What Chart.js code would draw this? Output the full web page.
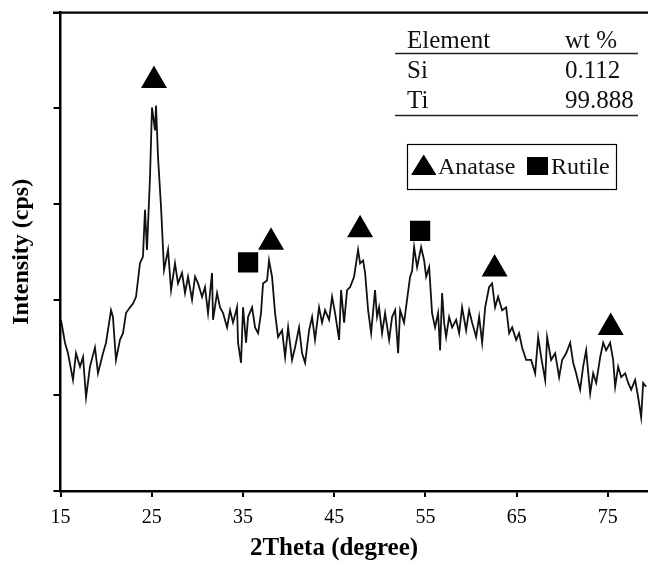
<!DOCTYPE html>
<html>
<head>
<meta charset="utf-8">
<script src="https://cdn.jsdelivr.net/npm/chart.js@4.4.1/dist/chart.umd.min.js"></script>
<style>
    html, body { margin: 0; padding: 0; background: #fff; }
    #wrap { width: 648px; height: 563px; }
</style>
</head>
<body>
<div id="wrap"><canvas id="xrd-graph"></canvas></div>
<script>
// 2theta (degree) / intensity
const twoTheta = [
    15.05, 15.49, 15.82, 16.37, 16.70, 17.14, 17.47, 17.80, 18.23, 18.78, 19.11, 19.66, 19.99, 20.54, 20.75, 21.08, 21.52, 21.85,
    22.18, 22.62, 22.95, 23.28, 23.71, 24.04, 24.26, 24.48, 24.81, 25.03, 25.36, 25.47, 25.69, 26.02, 26.35, 26.79, 27.12, 27.55,
    27.88, 28.32, 28.65, 28.98, 29.42, 29.75, 30.08, 30.52, 30.84, 31.17, 31.61, 31.72, 32.16, 32.49, 32.82, 33.26, 33.59, 33.91,
    34.35, 34.46, 34.79, 35.01, 35.34, 35.56, 36.00, 36.33, 36.66, 36.98, 37.20, 37.64, 37.86, 38.19, 38.52, 38.85, 39.29, 39.62, 39.95, 40.38,
    40.71, 41.15, 41.48, 41.81, 42.25, 42.58, 42.90, 43.34, 43.67, 44.00, 44.44, 44.77, 45.10, 45.54, 45.76, 46.09, 46.41, 46.74,
    47.18, 47.29, 47.62, 47.84, 48.17, 48.39, 48.72, 49.05, 49.48, 49.70, 49.92, 50.25, 50.58, 51.02, 51.35, 51.68, 52.01, 52.23, 52.66, 52.99,
    53.32, 53.54, 53.76, 54.09, 54.53, 54.86, 55.08, 55.41, 55.73, 56.06, 56.39, 56.61, 56.83, 57.05, 57.27, 57.60, 57.93, 58.37, 58.70,
    59.02, 59.46, 59.79, 60.12, 60.56, 60.89, 61.22, 61.55, 61.98, 62.31, 62.64, 62.97, 63.41, 63.85, 64.18, 64.51, 64.95, 65.27, 65.60, 66.04,
    66.59, 67.03, 67.36, 67.69, 68.13, 68.34, 68.78, 69.22, 69.66, 69.99, 70.43, 70.87, 71.20, 71.52, 71.96, 72.29, 72.62, 73.06,
    73.39, 73.72, 74.16, 74.49, 74.81, 75.25, 75.58, 75.80, 76.13, 76.46, 76.90, 77.23, 77.55, 77.99, 78.32, 78.65, 78.87, 79.20
]
const intensity = [
    1.79, 1.55, 1.44, 1.16, 1.44, 1.30, 1.40, 0.98, 1.30, 1.50, 1.23, 1.44, 1.55, 1.89, 1.82, 1.37, 1.58, 1.65,
    1.86, 1.92, 1.96, 2.03, 2.38, 2.45, 2.94, 2.52, 3.28, 4.01, 3.77, 4.03, 3.49, 2.97, 2.31, 2.52, 2.10, 2.38,
    2.17, 2.28, 2.07, 2.24, 2.00, 2.24, 2.17, 2.03, 2.13, 1.86, 2.28, 1.79, 2.07, 1.92, 1.86, 1.71, 1.89, 1.76,
    1.92, 1.55, 1.34, 1.92, 1.55, 1.82, 1.92, 1.71, 1.65, 1.86, 2.17, 2.20, 2.41, 2.24, 1.86, 1.61, 1.68, 1.40, 1.71, 1.37,
    1.50, 1.71, 1.44, 1.34, 1.68, 1.82, 1.58, 1.92, 1.76, 1.89, 1.79, 2.03, 1.86, 1.58, 2.10, 1.76, 2.10, 2.13,
    2.24, 2.31, 2.52, 2.38, 2.41, 2.28, 1.89, 1.65, 2.10, 1.82, 1.92, 1.65, 1.86, 1.58, 1.82, 1.89, 1.44, 1.89, 1.76, 2.00,
    2.24, 2.30, 2.55, 2.34, 2.55, 2.41, 2.24, 2.34, 1.86, 1.71, 1.86, 1.47, 2.07, 1.76, 1.61, 1.82, 1.71, 1.79, 1.65,
    1.92, 1.68, 1.89, 1.76, 1.61, 1.82, 1.55, 1.92, 2.13, 2.17, 1.92, 2.03, 1.89, 1.92, 1.65, 1.71, 1.58, 1.65, 1.50, 1.37,
    1.37, 1.23, 1.61, 1.40, 1.16, 1.61, 1.37, 1.44, 1.19, 1.37, 1.44, 1.55, 1.34, 1.23, 1.06, 1.30, 1.47, 1.02,
    1.23, 1.13, 1.40, 1.55, 1.47, 1.55, 1.37, 1.09, 1.30, 1.19, 1.23, 1.13, 1.06, 1.16, 0.98, 0.77, 1.13, 1.09
]

// peak markers
const anataseX = [25.25, 38.08, 47.84, 62.59, 75.31]
const anataseY = [4.29, 2.60, 2.73, 2.32, 1.71]
const rutileX = [35.56, 54.42]
const rutileY = [2.39, 2.72]

const xTicks = [15, 25, 35, 45, 55, 65, 75]
const yTicks = [0, 1, 2, 3, 4, 5]

const tableHead = ["Element", "wt %"]
const tableElements = ["Si", "Ti"]
const tableWt = ["0.112", "99.888"]

const serif = "'Liberation Serif', 'Times New Roman', serif"

function toPoints(xs, ys) {
    return xs.map((x, i) => ({ x: x, y: ys[i] }))
}

// top frame line, x title, composition table and phase legend
const extras = {
    id: 'extras',
    afterDraw(chart) {
        const ctx = chart.ctx
        const area = chart.chartArea
        ctx.save()

        ctx.strokeStyle = '#000'
        ctx.lineWidth = 2.3
        ctx.beginPath()
        ctx.moveTo(area.left - 7.5, area.top)
        ctx.lineTo(area.right, area.top)
        ctx.stroke()

        ctx.fillStyle = '#000'
        ctx.font = `bold 25px ${serif}`
        ctx.textAlign = 'center'
        ctx.textBaseline = 'middle'
        ctx.fillText('2Theta (degree)', 334, 549)

        // table
        ctx.fillStyle = '#111'
        ctx.font = `25px ${serif}`
        ctx.textAlign = 'left'
        ctx.textBaseline = 'alphabetic'
        ctx.fillText(tableHead[0], 407, 48)
        ctx.fillText(tableHead[1], 565, 48)
        tableElements.map((el, i) => {
            ctx.fillText(el, 407, 78 + i * 30)
            ctx.fillText(tableWt[i], 565, 78 + i * 30)
        })
        ctx.strokeStyle = '#222'
        ctx.lineWidth = 1.5
        ctx.beginPath()
        ctx.moveTo(395, 53.5)
        ctx.lineTo(638, 53.5)
        ctx.moveTo(395, 115.5)
        ctx.lineTo(638, 115.5)
        ctx.stroke()

        // legend
        ctx.lineWidth = 1.2
        ctx.strokeStyle = '#000'
        ctx.strokeRect(407.5, 144.5, 209, 45)
        ctx.fillStyle = '#000'
        ctx.lineJoin = 'round'
        ctx.beginPath()
        ctx.moveTo(412, 174.5)
        ctx.lineTo(435.5, 174.5)
        ctx.lineTo(423.7, 155.5)
        ctx.closePath()
        ctx.fill()
        ctx.stroke()
        ctx.fillRect(527, 157, 21, 18)
        ctx.fillStyle = '#111'
        ctx.font = `24px ${serif}`
        ctx.fillText("Anatase", 438, 174)
        ctx.fillText("Rutile", 551, 174)

        ctx.restore()
    }
}

new Chart(document.getElementById('xrd-graph').getContext('2d'), {
    type: 'scatter',
    data: {
        datasets: [
            {
                data: toPoints(twoTheta, intensity),
                showLine: true,
                borderColor: '#111',
                borderWidth: 1.8,
                pointRadius: 0,
                tension: 0
            },
            {
                data: toPoints(anataseX, anataseY),
                pointStyle: 'triangle',
                pointRadius: 13.5,
                backgroundColor: '#000',
                borderColor: '#000',
                borderWidth: 1.5
            },
            {
                data: toPoints(rutileX, rutileY),
                pointStyle: 'rect',
                pointRadius: 14.3,
                backgroundColor: '#000',
                borderColor: '#000',
                borderWidth: 0
            }
        ]
    },
    options: {
        responsive: true,
        maintainAspectRatio: false,
        animation: false,
        layout: { autoPadding: false, padding: { top: 12.7, right: 0, left: 0, bottom: 0 } },
        plugins: {
            legend: { display: false },
            tooltip: { enabled: false }
        },
        scales: {
            x: {
                type: 'linear',
                min: 15,
                max: 79.4,
                afterBuildTicks: (scale) => { scale.ticks = xTicks.map(v => ({ value: v })) },
                afterFit: (scale) => {
                    scale.height = 72
                    scale.paddingLeft = 0
                    scale.paddingRight = 0
                },
                border: { display: true, color: '#000', width: 2.5 },
                grid: { drawOnChartArea: false, drawTicks: true, tickLength: 6, tickColor: '#000', lineWidth: 2 },
                ticks: { color: '#000', font: { family: serif, size: 20 }, padding: 9, maxRotation: 0 },
                title: { display: false }
            },
            y: {
                min: 0,
                max: 5,
                afterBuildTicks: (scale) => { scale.ticks = yTicks.map(v => ({ value: v })) },
                afterFit: (scale) => { scale.width = 60.5 },
                border: { display: true, color: '#000', width: 2.5 },
                grid: { drawOnChartArea: false, drawTicks: true, tickLength: 7, tickColor: '#000', lineWidth: 2 },
                ticks: { display: false },
                title: {
                    display: true,
                    text: 'Intensity (cps)',
                    color: '#000',
                    font: { family: serif, size: 24, weight: 'bold' },
                    padding: { top: 7, bottom: 0 }
                }
            }
        }
    },
    plugins: [extras]
})
</script>
</body>
</html>
